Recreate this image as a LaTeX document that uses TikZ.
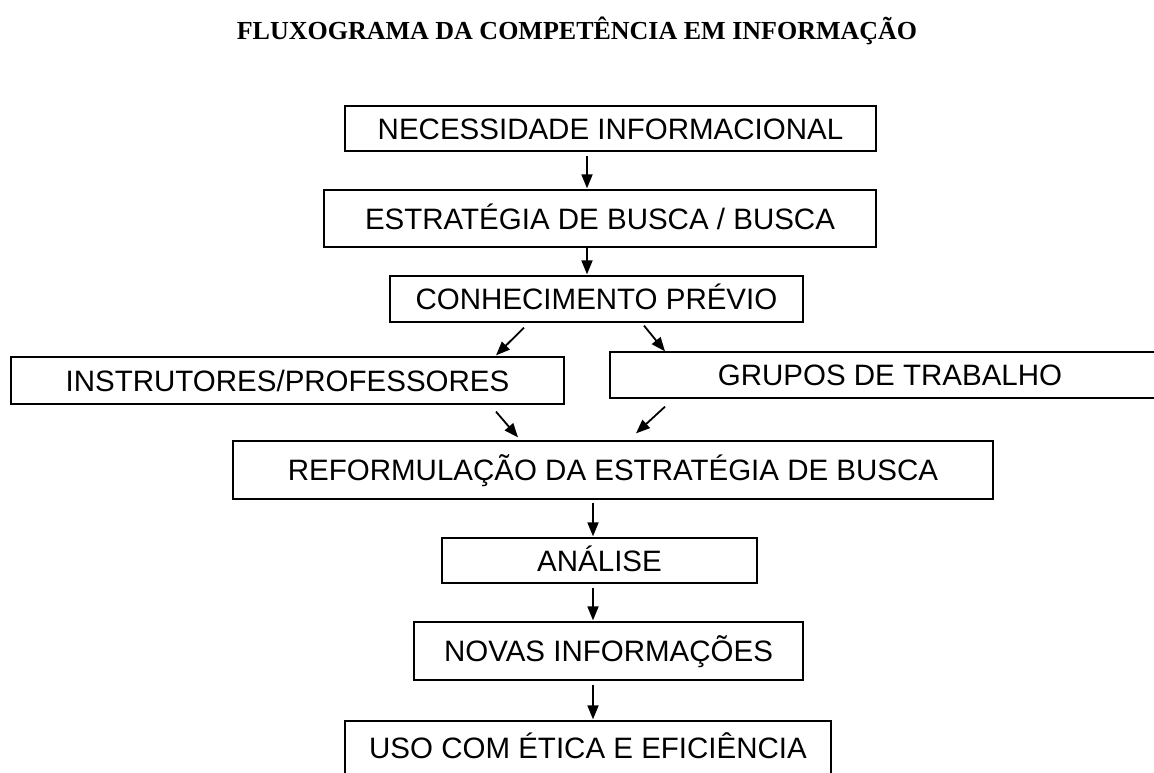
\documentclass[tikz,border=0pt]{standalone}
\usepackage{fontspec}
\setmainfont{Liberation Serif}
\newfontfamily\arial{Liberation Sans}
\usetikzlibrary{arrows.meta}

\begin{document}
\begin{tikzpicture}[x=1pt, y=-1pt,
    caixa/.style={draw, line width=1.3pt, inner sep=0pt, font=\arial\fontsize{29.5}{34}\selectfont, text height=21.1pt, text depth=0pt},
    seta/.style={-{Triangle[length=14pt, width=11pt]}, line width=1.8pt}]
    \useasboundingbox (0,0) rectangle (1154,773);

    \node[font=\bfseries\fontsize{26}{30}\selectfont, text height=17.2pt, text depth=0pt] (titulo) at (577,31) {FLUXOGRAMA DA COMPETÊNCIA EM INFORMAÇÃO};

    \node[caixa, minimum width=531pt, minimum height=45pt] (necessidade) at (610.5,128.5) {NECESSIDADE INFORMACIONAL};
    \node[caixa, minimum width=552pt, minimum height=57pt] (estrategia) at (600,218.5) {ESTRATÉGIA DE BUSCA / BUSCA};
    \node[caixa, minimum width=413pt, minimum height=46pt] (conhecimento) at (596.5,299) {CONHECIMENTO PRÉVIO};
    \node[caixa, minimum width=553pt, minimum height=47pt] (instrutores) at (287.5,380.5) {INSTRUTORES/PROFESSORES};
    \node[caixa, minimum width=560pt, minimum height=46pt] (grupos) at (890,375) {GRUPOS DE TRABALHO};
    \node[caixa, minimum width=760pt, minimum height=58pt] (reformulacao) at (613,470) {REFORMULAÇÃO DA ESTRATÉGIA DE BUSCA};
    \node[caixa, minimum width=315pt, minimum height=45pt] (analise) at (599.5,560.5) {ANÁLISE};
    \node[caixa, minimum width=389pt, minimum height=58pt] (novas) at (608.5,651) {NOVAS INFORMAÇÕES};
    \node[caixa, minimum width=486pt, minimum height=54pt] (uso) at (588,748) {USO COM ÉTICA E EFICIÊNCIA};

    \draw[seta] ([xshift=-23.5pt, yshift=-4pt]necessidade.south) -- ([xshift=-13pt, yshift=1pt]estrategia.north);
    \draw[seta] ([xshift=-13pt]estrategia.south) -- ([xshift=-9.5pt, yshift=1pt]conhecimento.north);
    \draw[seta] ([xshift=-72.5pt, yshift=-5pt]conhecimento.south) -- ([xshift=208.5pt, yshift=1pt]instrutores.north);
    \draw[seta] ([xshift=47.5pt, yshift=-3pt]conhecimento.south) -- ([xshift=-225pt]grupos.north);
    \draw[seta] ([xshift=208.5pt, yshift=-7pt]instrutores.south) -- ([xshift=-95pt, yshift=3pt]reformulacao.north);
    \draw[seta] ([xshift=-225pt, yshift=-8pt]grupos.south) -- ([xshift=23pt, yshift=7pt]reformulacao.north);
    \draw[seta] ([xshift=-20pt, yshift=-3pt]reformulacao.south) -- ([xshift=-6.5pt, yshift=1pt]analise.north);
    \draw[seta] ([xshift=-6.5pt, yshift=-4pt]analise.south) -- ([xshift=-15.5pt, yshift=1pt]novas.north);
    \draw[seta] ([xshift=-15.5pt, yshift=-4pt]novas.south) -- ([xshift=5pt, yshift=1pt]uso.north);
\end{tikzpicture}
\end{document}
